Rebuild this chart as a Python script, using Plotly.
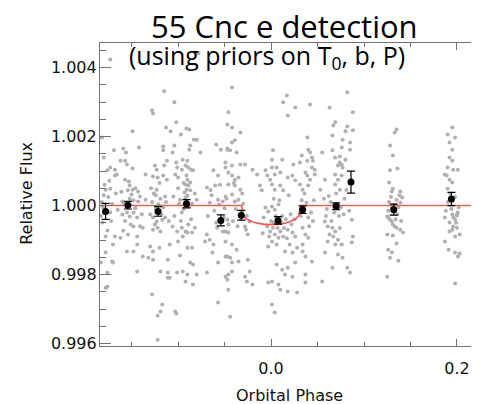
import plotly.graph_objects as go

# ---------------- data (phase, flux deviation in ppm) ----------------
stripe_1 = [(-0.173,4230),(-0.182,1970),(-0.169,1600),(-0.180,1390),(-0.173,1100),(-0.168,1040),(-0.176,1020),
            (-0.168,870),(-0.166,900),(-0.178,460),(-0.173,490),(-0.173,-200),(-0.165,-120),(-0.181,-490),
            (-0.178,-900),(-0.168,-900),(-0.170,-1130),(-0.183,-1650),(-0.171,-1620),(-0.176,-1940),
            (-0.176,-2350),(-0.178,-2380),(-0.182,100),(-0.178,-150),(-0.175,250),(-0.171,50),(-0.180,300),
            (-0.176,-720),(-0.178,-1360),(-0.170,-1650),(-0.183,-300),(-0.179,600),(-0.172,-450),
            (-0.167,350),(-0.181,-50),(-0.174,720)]
stripe_2 = [(-0.149,2150),(-0.159,1650),(-0.156,1540),(-0.142,1680),(-0.162,1300),(-0.157,1300),(-0.155,1190),
            (-0.149,1070),(-0.157,750),(-0.135,900),(-0.152,580),(-0.149,460),(-0.154,440),(-0.143,410),
            (-0.160,120),(-0.148,150),(-0.143,120),(-0.135,170),(-0.160,-260),(-0.155,-200),(-0.152,-320),
            (-0.148,-200),(-0.144,-350),(-0.138,-640),(-0.148,-610),(-0.159,-730),(-0.154,-840),(-0.144,-900),
            (-0.162,-930),(-0.155,-1330),(-0.148,-1330),(-0.144,-1130),(-0.138,-1480),(-0.132,-1510),
            (-0.144,-1910),(-0.158,60),(-0.152,200),(-0.146,-80),(-0.150,320),(-0.155,-40),(-0.141,260),
            (-0.161,400),(-0.157,-450),(-0.151,-550),(-0.146,500),(-0.139,-250),(-0.153,700),(-0.141,-600)]
stripe_3 = [(-0.115,3310),(-0.128,2760),(-0.127,2670),(-0.113,2260),(-0.108,2150),(-0.116,1710),(-0.116,1600),
            (-0.125,1160),(-0.123,1040),(-0.112,1300),(-0.115,1160),(-0.127,840),(-0.122,810),(-0.116,870),
            (-0.112,750),(-0.123,460),(-0.114,260),(-0.130,-260),(-0.127,-350),(-0.123,-460),(-0.117,-410),
            (-0.114,-350),(-0.127,-700),(-0.122,-640),(-0.119,-750),(-0.106,-610),(-0.130,-1190),(-0.127,-1330),
            (-0.120,-1220),(-0.109,-1130),(-0.127,-1570),(-0.111,-1570),(-0.119,-1910),(-0.111,-1940),
            (-0.111,-2090),(-0.109,-2090),(-0.128,-2580),(-0.117,-2870),(-0.119,-3070),(-0.122,-3190),
            (-0.122,-3890),(-0.128,100),(-0.124,-100),(-0.119,200),(-0.116,-60),(-0.126,350),(-0.121,40),
            (-0.129,500),(-0.125,-550),(-0.120,650),(-0.118,-250),(-0.113,100),(-0.110,-450),(-0.124,300)]
stripe_4 = [(-0.078,4410),(-0.104,2990),(-0.102,2410),(-0.091,2230),(-0.088,2200),(-0.097,2060),(-0.083,1910),
            (-0.080,1910),(-0.104,1740),(-0.106,1540),(-0.087,1740),(-0.088,1620),(-0.076,1540),(-0.102,1250),
            (-0.101,1100),(-0.095,1330),(-0.090,1300),(-0.092,1160),(-0.089,1100),(-0.096,1040),(-0.086,1040),
            (-0.084,1020),(-0.103,900),(-0.100,810),(-0.091,870),(-0.090,750),(-0.087,670),(-0.092,610),
            (-0.089,580),(-0.091,460),(-0.087,440),(-0.105,260),(-0.092,230),(-0.090,290),(-0.098,170),
            (-0.080,170),(-0.101,-750),(-0.096,-640),(-0.092,-750),(-0.090,-780),(-0.095,-900),(-0.085,-780),
            (-0.082,-640),(-0.100,-1040),(-0.090,-1220),(-0.085,-1220),(-0.098,-1450),(-0.087,-1650),
            (-0.084,-1710),(-0.101,-1940),(-0.095,-1910),(-0.090,-2000),(-0.080,-2000),(-0.092,-2200),
            (-0.084,-2290),(-0.103,-3070),(-0.102,-3130),(-0.099,50),(-0.094,-100),(-0.091,120),(-0.088,-30),
            (-0.093,380),(-0.085,60),(-0.096,-200),(-0.104,-300),(-0.100,500),(-0.097,-450),(-0.094,650),
            (-0.086,-400),(-0.082,350),(-0.089,-550)]
stripe_5 = [(-0.059,1770),(-0.054,1620),(-0.047,1650),(-0.062,1020),(-0.057,870),(-0.049,1100),(-0.069,520),
            (-0.060,580),(-0.046,610),(-0.057,170),(-0.052,120),(-0.069,-840),(-0.066,-990),(-0.071,-1040),
            (-0.062,-1130),(-0.058,-640),(-0.052,-750),(-0.046,-780),(-0.063,-1360),(-0.057,-1650),
            (-0.047,-1480),(-0.069,-1940),(-0.046,-2000),(-0.047,-2150),(-0.057,-2810),(-0.066,80),
            (-0.061,-150),(-0.056,30),(-0.050,-80),(-0.064,300),(-0.046,2700),(-0.047,2350),(-0.047,1620),
            (-0.044,1600),(-0.049,1250),(-0.046,960),(-0.049,260),(-0.047,-410),(-0.046,-550),(-0.049,-750),
            (-0.049,-1040),(-0.049,-1480),(-0.044,-1510),(-0.049,-2060),(-0.046,-2440),(-0.044,-3220),
            (-0.068,-300),(-0.065,450),(-0.059,-500),(-0.055,600),(-0.051,-350),(-0.048,200)]
stripe_6 = [(-0.042,3420),(-0.042,2260),(-0.033,2120),(-0.039,1890),(-0.042,1830),(-0.037,1540),(-0.042,1160),
            (-0.033,1190),(-0.028,1190),(-0.042,870),(-0.039,750),(-0.035,810),(-0.020,1040),(-0.015,900),
            (-0.039,580),(-0.033,460),(-0.042,320),(-0.039,120),(-0.035,170),(-0.023,-460),(-0.028,-610),
            (-0.025,-840),(-0.042,-1130),(-0.037,-1280),(-0.042,-1650),(-0.035,-1620),(-0.025,-1570),
            (-0.042,-1910),(-0.028,-2060),(-0.026,-2200),(-0.023,-1910),(-0.020,-2290),(-0.038,-100),
            (-0.033,-250),(-0.030,50),(-0.026,-300),(-0.041,-450),(-0.036,-600),(-0.031,350),(-0.027,-700),
            (-0.040,650)]
stripe_7 = [(0.017,3190),(0.013,2990),(0.026,2840),(0.018,2610),(0.002,1600),(0.001,1330),(0.012,1330),
            (0.001,1100),(0.006,1100),(0.024,1190),(-0.006,1020),(-0.004,870),(-0.001,750),(0.004,900),
            (0.010,960),(0.018,810),(0.023,870),(0.026,730),(0.001,610),(0.004,460),(0.010,580),(0.013,440),
            (-0.012,580),(-0.010,440),(-0.006,-60),(-0.003,-170),(0.001,-30),(0.004,-120),(0.008,30),
            (-0.001,-750),(0.002,-640),(0.004,-840),(0.008,-930),(0.001,-1040),(0.006,-1130),(0.010,-750),
            (0.013,-900),(-0.003,-1190),(0.018,-700),(0.023,-780),(0.026,-900),(0.020,-1130),(0.015,-1330),
            (0.023,-1360),(0.028,-1220),(-0.003,-2230),(0.001,-2200),(0.008,-2290),(0.010,-2440),
            (0.018,-2490),(0.028,-2520),(0.006,-1710),(0.012,-1860),(0.015,-2000),(0.018,-1800),
            (0.023,-2060),(0.026,-1650),(0.001,-2870),(0.004,-3100),(-0.008,-350),(0.000,-450),(0.005,-300),
            (0.011,-500),(0.016,-400),(0.021,-250),(0.003,200),(0.009,150),(-0.004,-600),(0.014,-650),
            (-0.009,-800),(-0.002,-900),(0.003,-500),(0.007,-650),(0.012,-300),(0.017,-950),(0.022,-550),
            (0.025,-400),(0.019,300)]
stripe_8 = [(0.042,2930),(0.039,1970),(0.040,1620),(0.042,1540),(0.033,1450),(0.031,1250),(0.039,1300),
            (0.044,1390),(0.045,1300),(0.044,1100),(0.047,1040),(0.037,960),(0.039,870),(0.042,750),
            (0.047,900),(0.031,610),(0.034,460),(0.040,580),(0.034,-640),(0.037,-840),(0.040,-930),
            (0.034,-1130),(0.034,-1330),(0.037,-1480),(0.044,-1620),(0.037,-2000),(0.037,-2230),
            (0.035,-100),(0.038,80),(0.043,-200),(0.046,150),(0.040,-350),(0.032,-300),(0.036,350),
            (0.041,-600),(0.045,-450),(0.033,150)]
stripe_9 = [(0.063,2840),(0.082,3280),(0.088,2700),(0.069,2410),(0.067,2320),(0.066,2030),(0.055,1540),
            (0.066,1600),(0.076,1680),(0.069,1390),(0.074,1250),(0.077,1100),(0.072,1160),(0.080,1330),
            (0.058,750),(0.069,900),(0.072,750),(0.076,870),(0.069,610),(0.074,460),(0.053,460),(0.082,2290),
            (0.080,2150),(0.077,1910),(0.085,1620),(0.074,1420),(0.076,1190),(0.088,2180),(0.085,1830),
            (0.058,-460),(0.061,-610),(0.066,-640),(0.069,-750),(0.063,-840),(0.067,-900),(0.072,-990),
            (0.061,-1040),(0.069,-1130),(0.076,-1130),(0.058,-1360),(0.072,-1420),(0.077,-1510),
            (0.066,-1800),(0.082,-1800),(0.085,-1940),(0.055,-2200),(0.087,-410),(0.088,-900),(0.087,-1070),
            (0.060,-100),(0.064,100),(0.068,-200),(0.071,50),(0.075,-50),(0.079,200),(0.073,-300),(0.062,280),
            (0.057,200),(0.059,-300),(0.065,-450),(0.070,350),(0.074,-650),(0.078,-250),(0.081,450),
            (0.084,-150)]
stripe_10 = [(0.135,2200),(0.133,2120),(0.128,1740),(0.131,1450),(0.136,1070),(0.128,1020),(0.127,670),
             (0.131,490),(0.130,410),(0.139,410),(0.135,170),(0.141,230),(0.139,90),(0.133,30),(0.130,-60),
             (0.125,-320),(0.126,-350),(0.128,-410),(0.130,-460),(0.131,-550),(0.133,-610),(0.135,-640),
             (0.139,-700),(0.142,-780),(0.125,-840),(0.131,-870),(0.135,-1100),(0.126,-1280),(0.130,-1360),
             (0.128,-1510),(0.137,-1600),(0.125,-2060),(0.127,100),(0.132,-150),(0.136,-250),(0.138,300),
             (0.126,-150),(0.129,250),(0.134,-400),(0.137,-50),(0.140,-450)]
stripe_11 = [(0.195,2260),(0.190,2060),(0.198,1970),(0.192,1830),(0.195,1620),(0.192,1390),(0.195,1300),
             (0.190,1100),(0.196,1040),(0.201,1040),(0.189,870),(0.192,750),(0.195,670),(0.190,490),
             (0.187,900),(0.187,-350),(0.195,-260),(0.200,-260),(0.198,-410),(0.192,-490),(0.196,-610),
             (0.195,-700),(0.200,-640),(0.203,-840),(0.198,-900),(0.187,-1040),(0.191,-1280),(0.198,-1360),
             (0.201,-1480),(0.203,-1390),(0.198,-2260),(0.201,-200),(0.200,-290),(0.190,100),(0.194,-100),
             (0.198,250),(0.202,-50),(0.188,-150),(0.193,350),(0.196,-350),(0.199,-500),(0.192,-750)]

binned_phase = [-0.178, -0.154, -0.1215, -0.091, -0.054, -0.032, 0.0075, 0.034, 0.070, 0.086, 0.132, 0.194]
binned_flux = [0.99983, 1.00001, 0.99983, 1.00005, 0.99957, 0.99972, 0.99957, 0.99988, 0.99998, 1.00068, 0.99988, 1.00019]
binned_err = [0.00023, 0.00011, 0.00014, 0.00012, 0.00016, 0.00014, 0.00011, 0.00011, 0.00010, 0.00032, 0.00016, 0.00019]

model_phase = [-0.19, -0.0315, -0.030, -0.027, -0.022, -0.015, -0.007, 0.0, 0.007, 0.015, 0.022, 0.027, 0.030, 0.0315, 0.23]
model_ppm = [0, 0, -280, -380, -450, -510, -545, -555, -545, -510, -450, -380, -280, 0, 0]

x_ticks = [0.0, 0.2]
y_ticks = [0.996, 0.998, 1.000, 1.002, 1.004]

# ---------------- figure ----------------
all_pts = (stripe_1 + stripe_2 + stripe_3 + stripe_4 + stripe_5 + stripe_6 + stripe_7 + stripe_8
           + stripe_9 + stripe_10 + stripe_11)
raw_phase = [p for p, _ in all_pts]
raw_flux = [1.0 + d * 1e-6 for _, d in all_pts]
model_flux = [1.0 + d * 1e-6 for d in model_ppm]

fig = go.Figure()
fig.add_trace(go.Scatter(x=raw_phase, y=raw_flux, mode="markers",
                         marker=dict(size=4, color="#b0b0b0"), showlegend=False))
fig.add_trace(go.Scatter(x=model_phase, y=model_flux, mode="lines",
                         line=dict(color="#f25a5a", width=1.6), showlegend=False))
fig.add_trace(go.Scatter(x=binned_phase, y=binned_flux, mode="markers",
                         marker=dict(size=7, color="black"),
                         error_y=dict(type="data", array=binned_err, color="black", thickness=1.2, width=4),
                         showlegend=False))

axis_col = "#707070"
tick_font = dict(family="DejaVu Sans", size=16, color="#111111")
fig.update_xaxes(range=[-0.184, 0.2237], tickvals=x_ticks, tickformat=".1f", automargin=False,
                 ticks="inside", ticklen=7, tickcolor=axis_col, tickwidth=1,
                 minor=dict(dtick=0.05, tick0=0, ticks="inside", ticklen=4, tickcolor=axis_col),
                 showline=True, linecolor=axis_col, linewidth=1.2, mirror="ticks",
                 showgrid=False, zeroline=False, tickfont=tick_font, ticklabelstandoff=8)
fig.update_yaxes(range=[0.99593, 1.00471], tickvals=y_ticks, tickformat=".3f", automargin=False,
                 ticks="inside", ticklen=11, tickcolor=axis_col, tickwidth=1,
                 minor=dict(dtick=0.0005, tick0=0.996, ticks="inside", ticklen=6, tickcolor=axis_col),
                 showline=True, linecolor=axis_col, linewidth=1.2, mirror=False,
                 showgrid=False, zeroline=False, tickfont=tick_font, ticklabelstandoff=-1)

# the page body adds an 8 px offset, so the figure is laid out 8 px smaller
fig.update_layout(
    width=471, height=396,
    margin=dict(l=92, r=0, t=35, b=58, autoexpand=False),
    paper_bgcolor="white", plot_bgcolor="white",
    annotations=[
        dict(text="55 Cnc e detection", x=0.488, y=1.056, xref="paper", yref="paper",
             showarrow=False, font=dict(family="Open Sans", size=31, color="black"),
             xanchor="center", yanchor="middle"),
        dict(text="(using priors on T<sub>0</sub>, b, P)", x=0.4406, y=0.954, xref="paper", yref="paper",
             showarrow=False, font=dict(family="Open Sans", size=25, color="black"),
             xanchor="center", yanchor="middle"),
        dict(text="Orbital Phase", x=0.499, y=-0.162, xref="paper", yref="paper",
             showarrow=False, font=dict(family="DejaVu Sans", size=16, color="#111111"),
             xanchor="center", yanchor="middle"),
        dict(text="Relative Flux", x=-0.193, y=0.505, xref="paper", yref="paper", textangle=-90,
             showarrow=False, font=dict(family="DejaVu Sans", size=16, color="#111111"),
             xanchor="center", yanchor="middle"),
    ],
)

fig.write_html("out.html")
